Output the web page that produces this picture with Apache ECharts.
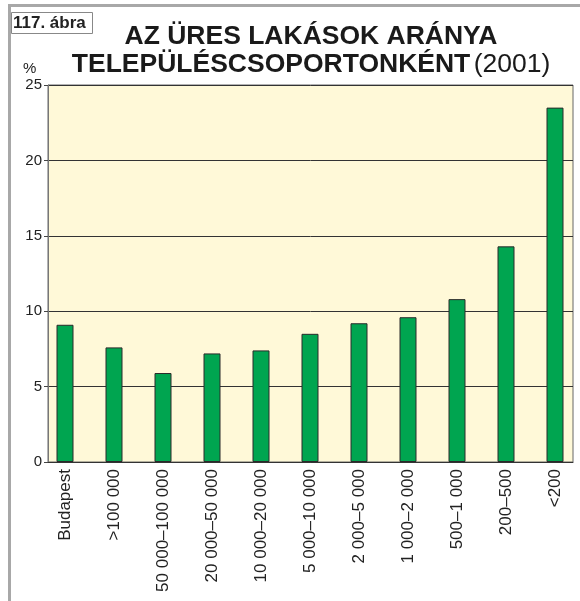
<!DOCTYPE html>
<html>
<head>
<meta charset="utf-8">
<script src="https://cdn.jsdelivr.net/npm/echarts@6/dist/echarts.min.js"></script>
<style>
    html, body { margin: 0; padding: 0; background: #fff; }
    #chart { width: 580px; height: 601px; }
</style>
</head>
<body>
<div id="chart"></div>
<script>
// településcsoportok
const categories = ['Budapest', '>100 000', '50 000–100 000', '20 000–50 000', '10 000–20 000',
    '5 000–10 000', '2 000–5 000', '1 000–2 000', '500–1 000', '200–500', '<200']
// üres lakások aránya, %
const emptyShare = [9.1, 7.6, 5.9, 7.2, 7.4, 8.5, 9.2, 9.6, 10.8, 14.3, 23.5]
const yTicks = [0, 5, 10, 15, 20, 25]

const font = '"Liberation Sans", Arial, sans-serif'
const chart = echarts.init(document.getElementById('chart'))

chart.setOption({
    animation: false,
    grid: [
        {
            // háttér + tengelyek
            left: 48,
            right: 7,
            top: 85,
            bottom: 139,
            show: true,
            backgroundColor: '#fff9d8',
            borderColor: '#666',
            borderWidth: 1
        },
        {
            // oszlopok: a kategóriák kicsit balra tolva, mint az eredetin
            left: 40.5,
            right: 0.5,
            top: 85,
            bottom: 139
        }
    ],
    graphic: [
        // keret
        { type: 'rect', shape: { x: 8, y: 4, width: 580, height: 3 }, style: { fill: '#a8a8a8' } },
        { type: 'rect', shape: { x: 8, y: 4, width: 3, height: 600 }, style: { fill: '#a8a8a8' } },
        {
            type: 'rect',
            shape: { x: 11.5, y: 12.5, width: 81, height: 21 },
            style: { fill: '#fff', stroke: '#888', lineWidth: 1 }
        },
        {
            type: 'text', x: 13, y: 23,
            style: { text: '117. ábra', font: 'bold 17px ' + font, fill: '#222', verticalAlign: 'middle' }
        },
        {
            type: 'text', x: 311, y: 37,
            style: {
                text: 'AZ ÜRES LAKÁSOK ARÁNYA',
                font: 'bold 26.5px ' + font,
                fill: '#1a1a1a',
                align: 'center',
                verticalAlign: 'middle'
            }
        },
        {
            type: 'text', x: 311, y: 65,
            style: {
                text: '{b|TELEPÜLÉSCSOPORTONKÉNT} {n|(2001)}',
                align: 'center',
                verticalAlign: 'middle',
                rich: {
                    b: { font: 'bold 26.5px ' + font, fill: '#1a1a1a' },
                    n: { font: '26.5px ' + font, fill: '#1a1a1a' }
                }
            }
        },
        {
            type: 'text', x: 23, y: 61,
            style: { text: '%', font: '15px ' + font, fill: '#222' }
        }
    ],
    xAxis: [
        {
            type: 'value',
            gridIndex: 0,
            min: 0,
            max: 1,
            axisLine: { show: true, onZero: false, lineStyle: { color: '#333', width: 1 } },
            axisTick: { show: false },
            axisLabel: { show: false },
            splitLine: { show: false }
        },
        {
            type: 'category',
            gridIndex: 1,
            data: categories,
            axisLine: { show: false },
            axisTick: { show: false },
            axisLabel: {
                rotate: 90,
                interval: 0,
                margin: 7,
                fontSize: 17,
                fontFamily: font,
                color: '#222'
            }
        }
    ],
    yAxis: [
        {
            type: 'value',
            gridIndex: 0,
            min: 0,
            max: 25,
            interval: 5,
            axisLine: { show: true, lineStyle: { color: '#777' } },
            axisTick: { show: true, length: 4, lineStyle: { color: '#444' } },
            axisLabel: {
                margin: 6,
                fontSize: 15,
                fontFamily: font,
                color: '#222',
                formatter: v => yTicks.includes(v) ? String(v) : ''
            },
            splitLine: { lineStyle: { color: '#333', width: 1 } }
        },
        {
            type: 'value',
            gridIndex: 1,
            min: 0,
            max: 25,
            show: false
        }
    ],
    series: [{
        type: 'bar',
        xAxisIndex: 1,
        yAxisIndex: 1,
        data: emptyShare,
        barWidth: 17,
        itemStyle: {
            color: '#00a550',
            borderColor: '#2a2a2a',
            borderWidth: 1
        }
    }]
})
</script>
</body>
</html>
